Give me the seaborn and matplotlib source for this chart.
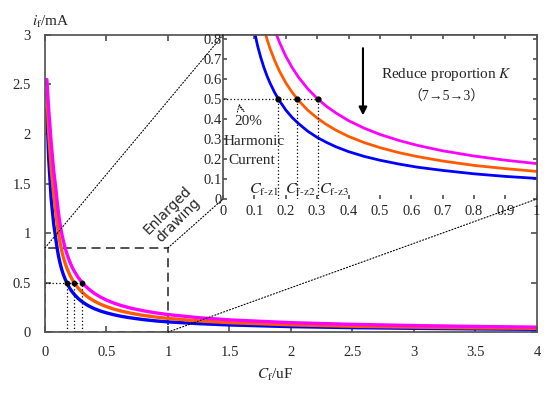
import matplotlib
matplotlib.use("Agg")
import matplotlib.pyplot as plt
import seaborn as sns
from matplotlib.patches import ConnectionPatch, Rectangle

# capacitance C_f (uF) and filter current i_f (mA)
cap_uf = [0.015, 0.03, 0.05, 0.07, 0.09, 0.10, 0.11, 0.12, 0.13, 0.14, 0.15,
          0.165, 0.18, 0.20, 0.22, 0.24, 0.27, 0.30, 0.33, 0.36, 0.40, 0.45,
          0.50, 0.56, 0.62, 0.70, 0.80, 0.90, 1.0, 1.25, 1.5, 2.0, 2.5, 3.0,
          3.5, 4.0]
i_k3 = [2.25, 1.75, 1.35, 1.10, 0.921, 0.838, 0.767, 0.709, 0.659, 0.616,
        0.579, 0.531, 0.491, 0.445, 0.408, 0.378, 0.339, 0.308, 0.283, 0.261,
        0.237, 0.213, 0.194, 0.175, 0.159, 0.143, 0.126, 0.113, 0.103, 0.085,
        0.072, 0.055, 0.045, 0.038, 0.032, 0.028]
i_k5 = [2.42, 2.02, 1.66, 1.40, 1.188, 1.082, 0.992, 0.918, 0.855, 0.800,
        0.752, 0.691, 0.639, 0.581, 0.534, 0.494, 0.444, 0.405, 0.372, 0.344,
        0.313, 0.282, 0.257, 0.232, 0.212, 0.190, 0.168, 0.152, 0.138, 0.113,
        0.095, 0.073, 0.059, 0.050, 0.043, 0.038]
i_k7 = [2.55, 2.25, 1.92, 1.64, 1.428, 1.304, 1.199, 1.112, 1.038, 0.974,
        0.917, 0.844, 0.783, 0.714, 0.658, 0.610, 0.551, 0.503, 0.463, 0.430,
        0.392, 0.354, 0.323, 0.293, 0.268, 0.241, 0.215, 0.194, 0.177, 0.145,
        0.123, 0.095, 0.078, 0.066, 0.057, 0.050]
series = [(i_k3, "#0000FF"), (i_k5, "#FF5A00"), (i_k7, "#FF00FF")]

# 20% harmonic current crossing points
harmonic_level = 0.5
cap_marks = [0.176, 0.237, 0.302]
cap_names = [r"$C_{\text{f-z1}}$", r"$C_{\text{f-z2}}$", r"$C_{\text{f-z3}}$"]
name_x = [0.13, 0.245, 0.355]

main_xticks = [0, 0.5, 1, 1.5, 2, 2.5, 3, 3.5, 4]
main_yticks = [0, 0.5, 1, 1.5, 2, 2.5, 3]
inset_xticks = [0, 0.1, 0.2, 0.3, 0.4, 0.5, 0.6, 0.7, 0.8, 0.9, 1]
inset_yticks = [0, 0.1, 0.2, 0.3, 0.4, 0.5, 0.6, 0.7, 0.8]
zoom_x = (0, 1)
zoom_y = (0, 0.85)

DOT = (0, (1, 1.8))

sns.set_theme(style="ticks")
plt.rcParams["font.family"] = ["Liberation Serif", "Noto Sans CJK SC"]
plt.rcParams["mathtext.fontset"] = "stix"

fig = plt.figure(figsize=(5.5, 3.93), dpi=100)
ax = fig.add_axes([0.0818, 0.155, 0.8945, 0.756])


def fmt(v):
    return f"{v:g}"


def draw_marks(a, size):
    a.plot([0, cap_marks[-1]], [harmonic_level, harmonic_level],
           color="black", lw=0.9, ls=DOT)
    for c in cap_marks:
        a.plot([c, c], [0, harmonic_level], color="black", lw=0.9, ls=DOT)
    a.scatter(cap_marks, [harmonic_level] * len(cap_marks), s=size,
              color="black", zorder=5)


for vals, col in series:
    sns.lineplot(x=cap_uf, y=vals, ax=ax, color=col, lw=2.4)
draw_marks(ax, 10)
ax.add_patch(Rectangle((zoom_x[0], zoom_y[0]), zoom_x[1] - zoom_x[0],
                       zoom_y[1] - zoom_y[0], fill=False, ec="#444444",
                       lw=1.3, ls=(0, (5, 3))))
ax.set_xlim(0, 4)
ax.set_ylim(0, 3)
ax.set_xticks(main_xticks)
ax.set_xticklabels([fmt(v) for v in main_xticks])
ax.set_yticks(main_yticks)
ax.set_yticklabels([fmt(v) for v in main_yticks])
ax.tick_params(direction="in", top=True, right=True, length=4, labelsize=10.5,
               pad=10, color="#555555")
for s in ax.spines.values():
    s.set_color("#555555")
ax.text(1.04, 1.18, "Enlarged\ndrawing", rotation=45, ha="center", va="center",
        family="DejaVu Sans", fontsize=10, multialignment="center",
        linespacing=1.05)

fig.text(0.093, 0.944, r"$i_{\mathrm{f}}$/mA", ha="center", va="center", fontsize=11)
fig.text(0.5, 0.046, r"$C_{\mathrm{f}}$/uF", ha="center", va="center", fontsize=11)

# enlarged inset
axin = fig.add_axes([0.4055, 0.4936, 0.5705, 0.4173])
axin.set_facecolor("white")
for vals, col in series:
    sns.lineplot(x=cap_uf, y=vals, ax=axin, color=col, lw=2.0)
draw_marks(axin, 12)
axin.set_xlim(0, 1)
axin.set_ylim(0, 0.82)
axin.set_xticks(inset_xticks)
axin.set_xticklabels([fmt(v) for v in inset_xticks])
axin.set_yticks(inset_yticks)
axin.set_yticklabels([fmt(v) for v in inset_yticks])
axin.tick_params(direction="in", top=True, right=True, length=3, labelsize=10.5,
                 color="#555555")
axin.tick_params(axis="y", pad=1)
axin.tick_params(axis="x", pad=4)
axin.spines["bottom"].set_visible(False)
for s in ["left", "top", "right"]:
    axin.spines[s].set_color("#555555")

axin.text(0.713, 0.621, r"Reduce proportion $K$", ha="center", va="center", fontsize=11)
axin.text(0.713, 0.512, "（7→5→3）", ha="center", va="center", fontsize=10)
axin.annotate("", xy=(0.446, 0.404), xytext=(0.446, 0.768),
              arrowprops=dict(arrowstyle="-|>", color="black", lw=1.5,
                              mutation_scale=12))
axin.text(0.08, 0.39, "20%", ha="center", va="center", fontsize=11)
axin.text(0.099, 0.29, "Harmonic", ha="center", va="center", fontsize=11)
axin.text(0.092, 0.192, "Current", ha="center", va="center", fontsize=11)
axin.annotate("", xy=(0.05, 0.49), xytext=(0.075, 0.43),
              arrowprops=dict(arrowstyle="->", color="black", lw=0.7, ls=":",
                              connectionstyle="arc3,rad=-0.3"))
for nx, nm in zip(name_x, cap_names):
    axin.text(nx, 0.044, nm, ha="center", va="center", fontsize=11.5)

# dotted guide lines from the zoom box to the inset
for pa, pb in [((zoom_x[0], zoom_y[1]), (0, 0.82)),
               ((zoom_x[1], zoom_y[1]), (0, 0)),
               ((zoom_x[1], zoom_y[0]), (1, 0))]:
    con = ConnectionPatch(xyA=pa, coordsA=ax.transData, xyB=pb,
                          coordsB=axin.transData, color="black", lw=0.8,
                          ls=DOT)
    fig.add_artist(con)

fig.savefig("out.png", dpi=100)
